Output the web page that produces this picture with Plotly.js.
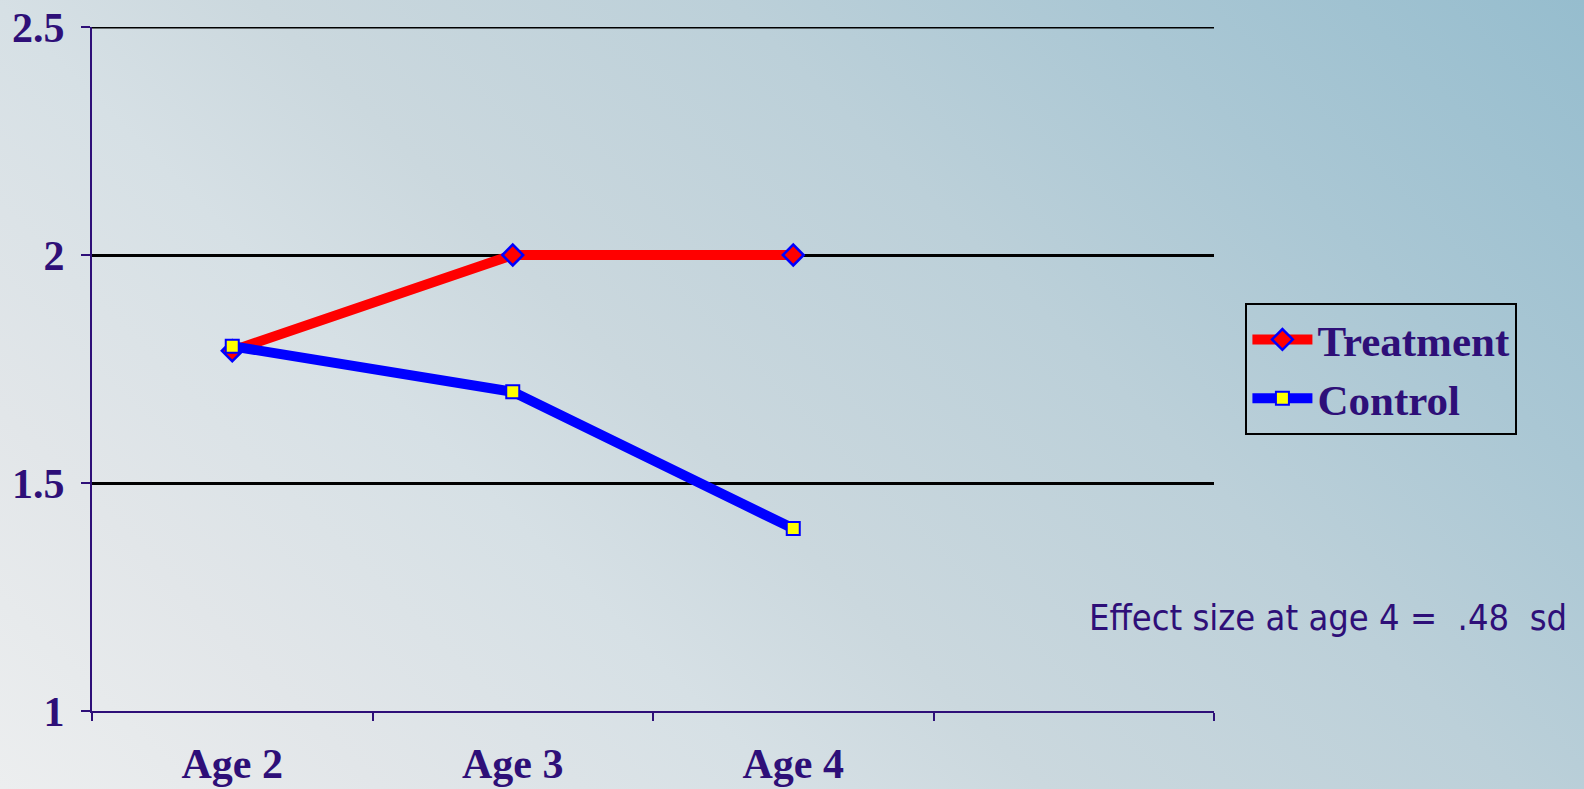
<!DOCTYPE html>
<html>
<head>
<meta charset="utf-8">
<script src="https://cdn.plot.ly/plotly-3.0.1.min.js"></script>
<style>
  html, body { margin: 0; padding: 0; width: 1584px; height: 789px; overflow: hidden; }
  body {
    background: linear-gradient(45deg, #eceeef 0%, #e2e6e9 16%, #d6e0e5 33%, #cbd8de 44%,
                                #bcd0d9 64%, #aac7d4 80%, #96bdce 100%);
  }
  #chart { width: 1584px; height: 789px; }
</style>
</head>
<body>
<div id="chart"></div>
<script>
// Age groups (the fourth slot is left empty on the axis)
const categories = ['Age 2', 'Age 3', 'Age 4', ' '];
const ages = ['Age 2', 'Age 3', 'Age 4'];
const treatment = [1.79, 2.0, 2.0];
const control = [1.8, 1.7, 1.4];
const yTicks = [1, 1.5, 2, 2.5];
const yTickText = ['1', '1.5', '2', '2.5'];
const note = 'Effect size at age 4 =\u00a0 .48\u00a0 sd';

const ink = '#2e0f78';
const serif = '"Liberation Serif", "Times New Roman", serif';
const yMax = Math.max(...yTicks);

const traces = [
  {
    name: 'Treatment',
    x: ages,
    y: treatment,
    type: 'scatter',
    mode: 'lines+markers',
    line: { color: '#ff0000', width: 10 },
    marker: { symbol: 'diamond', size: 16, color: '#ff0000', line: { color: '#0000ff', width: 2.5 } }
  },
  {
    name: 'Control',
    x: ages,
    y: control,
    type: 'scatter',
    mode: 'lines+markers',
    line: { color: '#0000ff', width: 10 },
    marker: { symbol: 'square', size: 13, color: '#ffff00', line: { color: '#0000ff', width: 2 } }
  }
];

const layout = {
  width: 1584,
  height: 789,
  paper_bgcolor: 'rgba(0,0,0,0)',
  plot_bgcolor: 'rgba(0,0,0,0)',
  margin: { l: 92, r: 370, t: 27, b: 78 },
  showlegend: true,
  legend: {
    x: 1.028, xanchor: 'left',
    y: 0.5, yanchor: 'middle',
    bgcolor: 'rgba(0,0,0,0)',
    bordercolor: '#000000',
    borderwidth: 2,
    font: { family: serif, size: 43, color: ink, weight: 'bold' },
    itemwidth: 60,
    tracegroupgap: 0
  },
  xaxis: {
    type: 'category',
    categoryorder: 'array',
    categoryarray: categories,
    range: [-0.5, 3.5],
    tickson: 'boundaries',
    ticks: 'outside',
    ticklen: 8,
    tickwidth: 2,
    tickcolor: ink,
    showline: true,
    linecolor: ink,
    linewidth: 2,
    showgrid: false,
    zeroline: false,
    ticklabelstandoff: 15,
    tickfont: { family: serif, size: 42, color: ink, weight: 'bold' },
    fixedrange: true
  },
  yaxis: {
    range: [1, 2.5],
    tickvals: yTicks,
    ticktext: yTickText,
    ticks: 'outside',
    ticklen: 9,
    tickwidth: 2,
    tickcolor: ink,
    showline: true,
    linecolor: ink,
    linewidth: 2,
    showgrid: true,
    gridcolor: '#000000',
    gridwidth: 3,
    zeroline: false,
    ticklabelstandoff: 8,
    tickfont: { family: serif, size: 42, color: ink, weight: 'bold' },
    fixedrange: true
  },
  shapes: [
    // top gridline at the edge of the value range
    {
      type: 'line', layer: 'below',
      xref: 'paper', x0: 0, x1: 1,
      yref: 'y', y0: yMax, y1: yMax,
      line: { color: '#000000', width: 3 }
    }
  ],
  annotations: [
    {
      text: note,
      xref: 'paper', yref: 'paper',
      x: 1.1016, y: 0.136,
      xanchor: 'center', yanchor: 'middle',
      showarrow: false,
      font: { family: '"DejaVu Sans Condensed", "DejaVu Sans", sans-serif', size: 36, color: ink }
    }
  ]
};

Plotly.newPlot('chart', traces, layout, { displayModeBar: false, staticPlot: true });
</script>
</body>
</html>
